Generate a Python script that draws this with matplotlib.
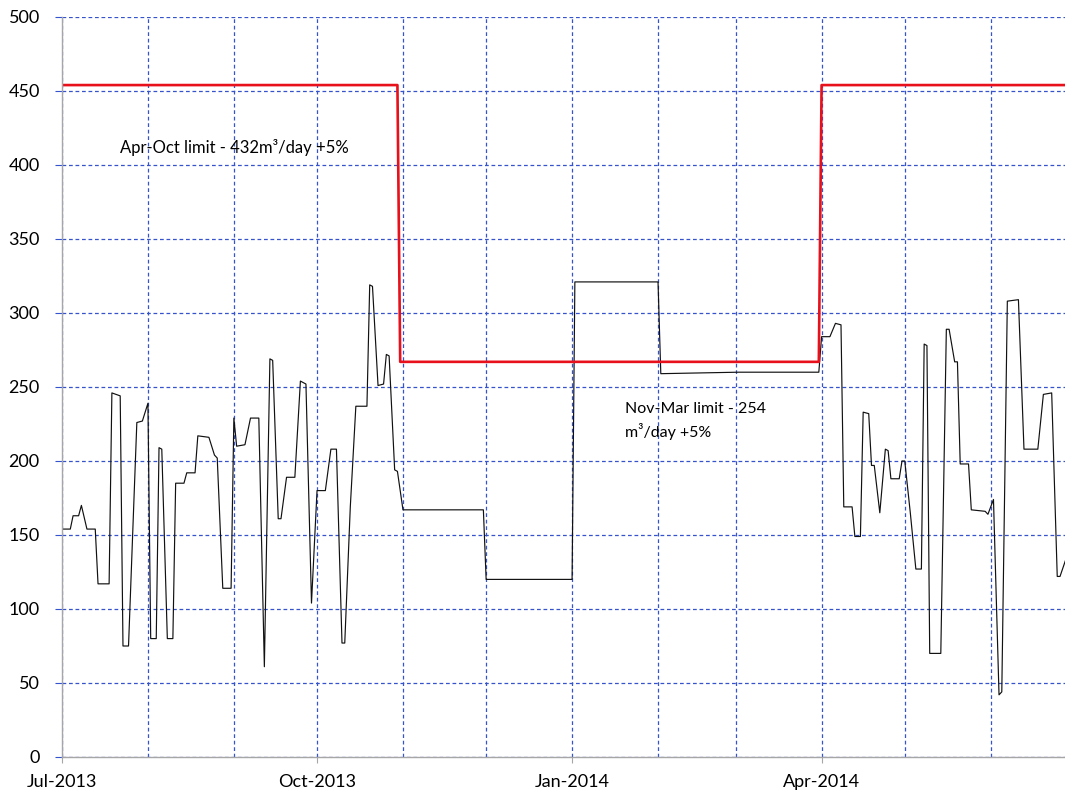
import numpy as np
import pandas as pd
import matplotlib
matplotlib.use('Agg')
import matplotlib.pyplot as plt
import matplotlib.dates as mdates

plt.rcParams['font.family'] = ['Lato', 'DejaVu Sans']

# Daily flow readings (m3/day), breakpoints
flow_dates = [
    '2013-07-01', '2013-07-04', '2013-07-05', '2013-07-07', '2013-07-08', '2013-07-10',
    '2013-07-13', '2013-07-14', '2013-07-18', '2013-07-19', '2013-07-22', '2013-07-23',
    '2013-07-25', '2013-07-27', '2013-07-28', '2013-07-30', '2013-08-01', '2013-08-02',
    '2013-08-04', '2013-08-05', '2013-08-06', '2013-08-08', '2013-08-10', '2013-08-11',
    '2013-08-14', '2013-08-15', '2013-08-18', '2013-08-19', '2013-08-23', '2013-08-25',
    '2013-08-26', '2013-08-28', '2013-08-31', '2013-09-01', '2013-09-02', '2013-09-05',
    '2013-09-07', '2013-09-10', '2013-09-12', '2013-09-14', '2013-09-15', '2013-09-17',
    '2013-09-18', '2013-09-20', '2013-09-23', '2013-09-25', '2013-09-27', '2013-09-29',
    '2013-10-01', '2013-10-04', '2013-10-06', '2013-10-08', '2013-10-10', '2013-10-11',
    '2013-10-13', '2013-10-15', '2013-10-19', '2013-10-20', '2013-10-21', '2013-10-23',
    '2013-10-25', '2013-10-26', '2013-10-27', '2013-10-29', '2013-10-30', '2013-11-01',
    '2013-11-30', '2013-12-01', '2014-01-01', '2014-01-02', '2014-02-01', '2014-02-02',
    '2014-03-02', '2014-03-31', '2014-04-01', '2014-04-04', '2014-04-06', '2014-04-08',
    '2014-04-09', '2014-04-12', '2014-04-13', '2014-04-15', '2014-04-16', '2014-04-18',
    '2014-04-19', '2014-04-20', '2014-04-22', '2014-04-24', '2014-04-25', '2014-04-26',
    '2014-04-29', '2014-04-30', '2014-05-01', '2014-05-03', '2014-05-05', '2014-05-07',
    '2014-05-08', '2014-05-09', '2014-05-10', '2014-05-14', '2014-05-16', '2014-05-17',
    '2014-05-19', '2014-05-20', '2014-05-21', '2014-05-24', '2014-05-25', '2014-05-30',
    '2014-05-31', '2014-06-02', '2014-06-04', '2014-06-05', '2014-06-07', '2014-06-11',
    '2014-06-13', '2014-06-18', '2014-06-20', '2014-06-23', '2014-06-25', '2014-06-26',
    '2014-06-28',
]
flow_values = [
    154, 154, 163, 163, 170, 154,
    154, 117, 117, 246, 244, 75,
    75, 176, 226, 227, 239, 80,
    80, 209, 208, 80, 80, 185,
    185, 192, 192, 217, 216, 204,
    202, 114, 114, 229, 210, 211,
    229, 229, 61, 269, 268, 161,
    161, 189, 189, 254, 252, 104,
    180, 180, 208, 208, 77, 77,
    169, 237, 237, 319, 318, 251,
    252, 272, 271, 194, 193, 167,
    167, 120, 120, 321, 321, 259,
    260, 260, 284, 284, 293, 292,
    169, 169, 149, 149, 233, 232,
    197, 197, 165, 208, 207, 188,
    188, 200, 200, 165, 127, 127,
    279, 278, 70, 70, 289, 289,
    267, 267, 198, 198, 167, 166,
    164, 174, 42, 44, 308, 309,
    208, 208, 245, 246, 122, 122,
    133,
]

# Consent limits (+5%)
limit_dates = ['2013-07-01', '2013-10-30', '2013-10-31', '2014-03-31', '2014-04-01', '2014-07-01']
limit_values = [454, 454, 267, 267, 454, 454]

x_start = pd.Timestamp('2013-07-01')
x_end = x_start + pd.Timedelta(days=361.8)

fig = plt.figure(figsize=(10.65, 7.94), dpi=100)
ax = fig.add_axes([0.0582, 0.0466, 1 - 0.0582, 0.932])

grid_kw = dict(color='#3453cc', linestyle=(0, (3, 2.2)), linewidth=0.9)

ax.plot(pd.to_datetime(flow_dates), flow_values, color='#111111', linewidth=0.85, zorder=3)
ax.plot(pd.to_datetime(limit_dates), limit_values, color='#e8101a', linewidth=1.9, zorder=4)

ax.set_xlim(x_start, x_end)
ax.set_ylim(0, 500)
ax.set_yticks(np.arange(0, 501, 50))

ax.xaxis.set_major_locator(mdates.MonthLocator(bymonth=[1, 4, 7, 10]))
ax.xaxis.set_minor_locator(mdates.MonthLocator())
ax.xaxis.set_major_formatter(mdates.DateFormatter('%b-%Y'))

ax.grid(True, which='both', axis='x', **grid_kw)
ax.grid(True, which='major', axis='y', **grid_kw)
ax.set_axisbelow(True)

for side in ['top', 'right']:
    ax.spines[side].set_visible(False)
for side in ['left', 'bottom']:
    ax.spines[side].set_color('#a6a6a6')
    ax.spines[side].set_linewidth(1.0)
    ax.spines[side].set_zorder(5)

ax.tick_params(axis='x', which='major', length=4, color='#a6a6a6', pad=8, labelsize=13)
ax.tick_params(axis='x', which='minor', length=0)
ax.tick_params(axis='y', length=5, color='#3453cc', pad=11, labelsize=13)

ax.text(pd.Timestamp('2013-07-22'), 412, 'Apr-Oct limit - 432m³/day +5%',
        fontsize=12, ha='left', va='center')
ax.text(pd.Timestamp('2014-01-20'), 227, 'Nov-Mar limit - 254\nm³/day +5%',
        fontsize=11.5, ha='left', va='center', linespacing=1.45)

fig.savefig('out.png', dpi=100)
